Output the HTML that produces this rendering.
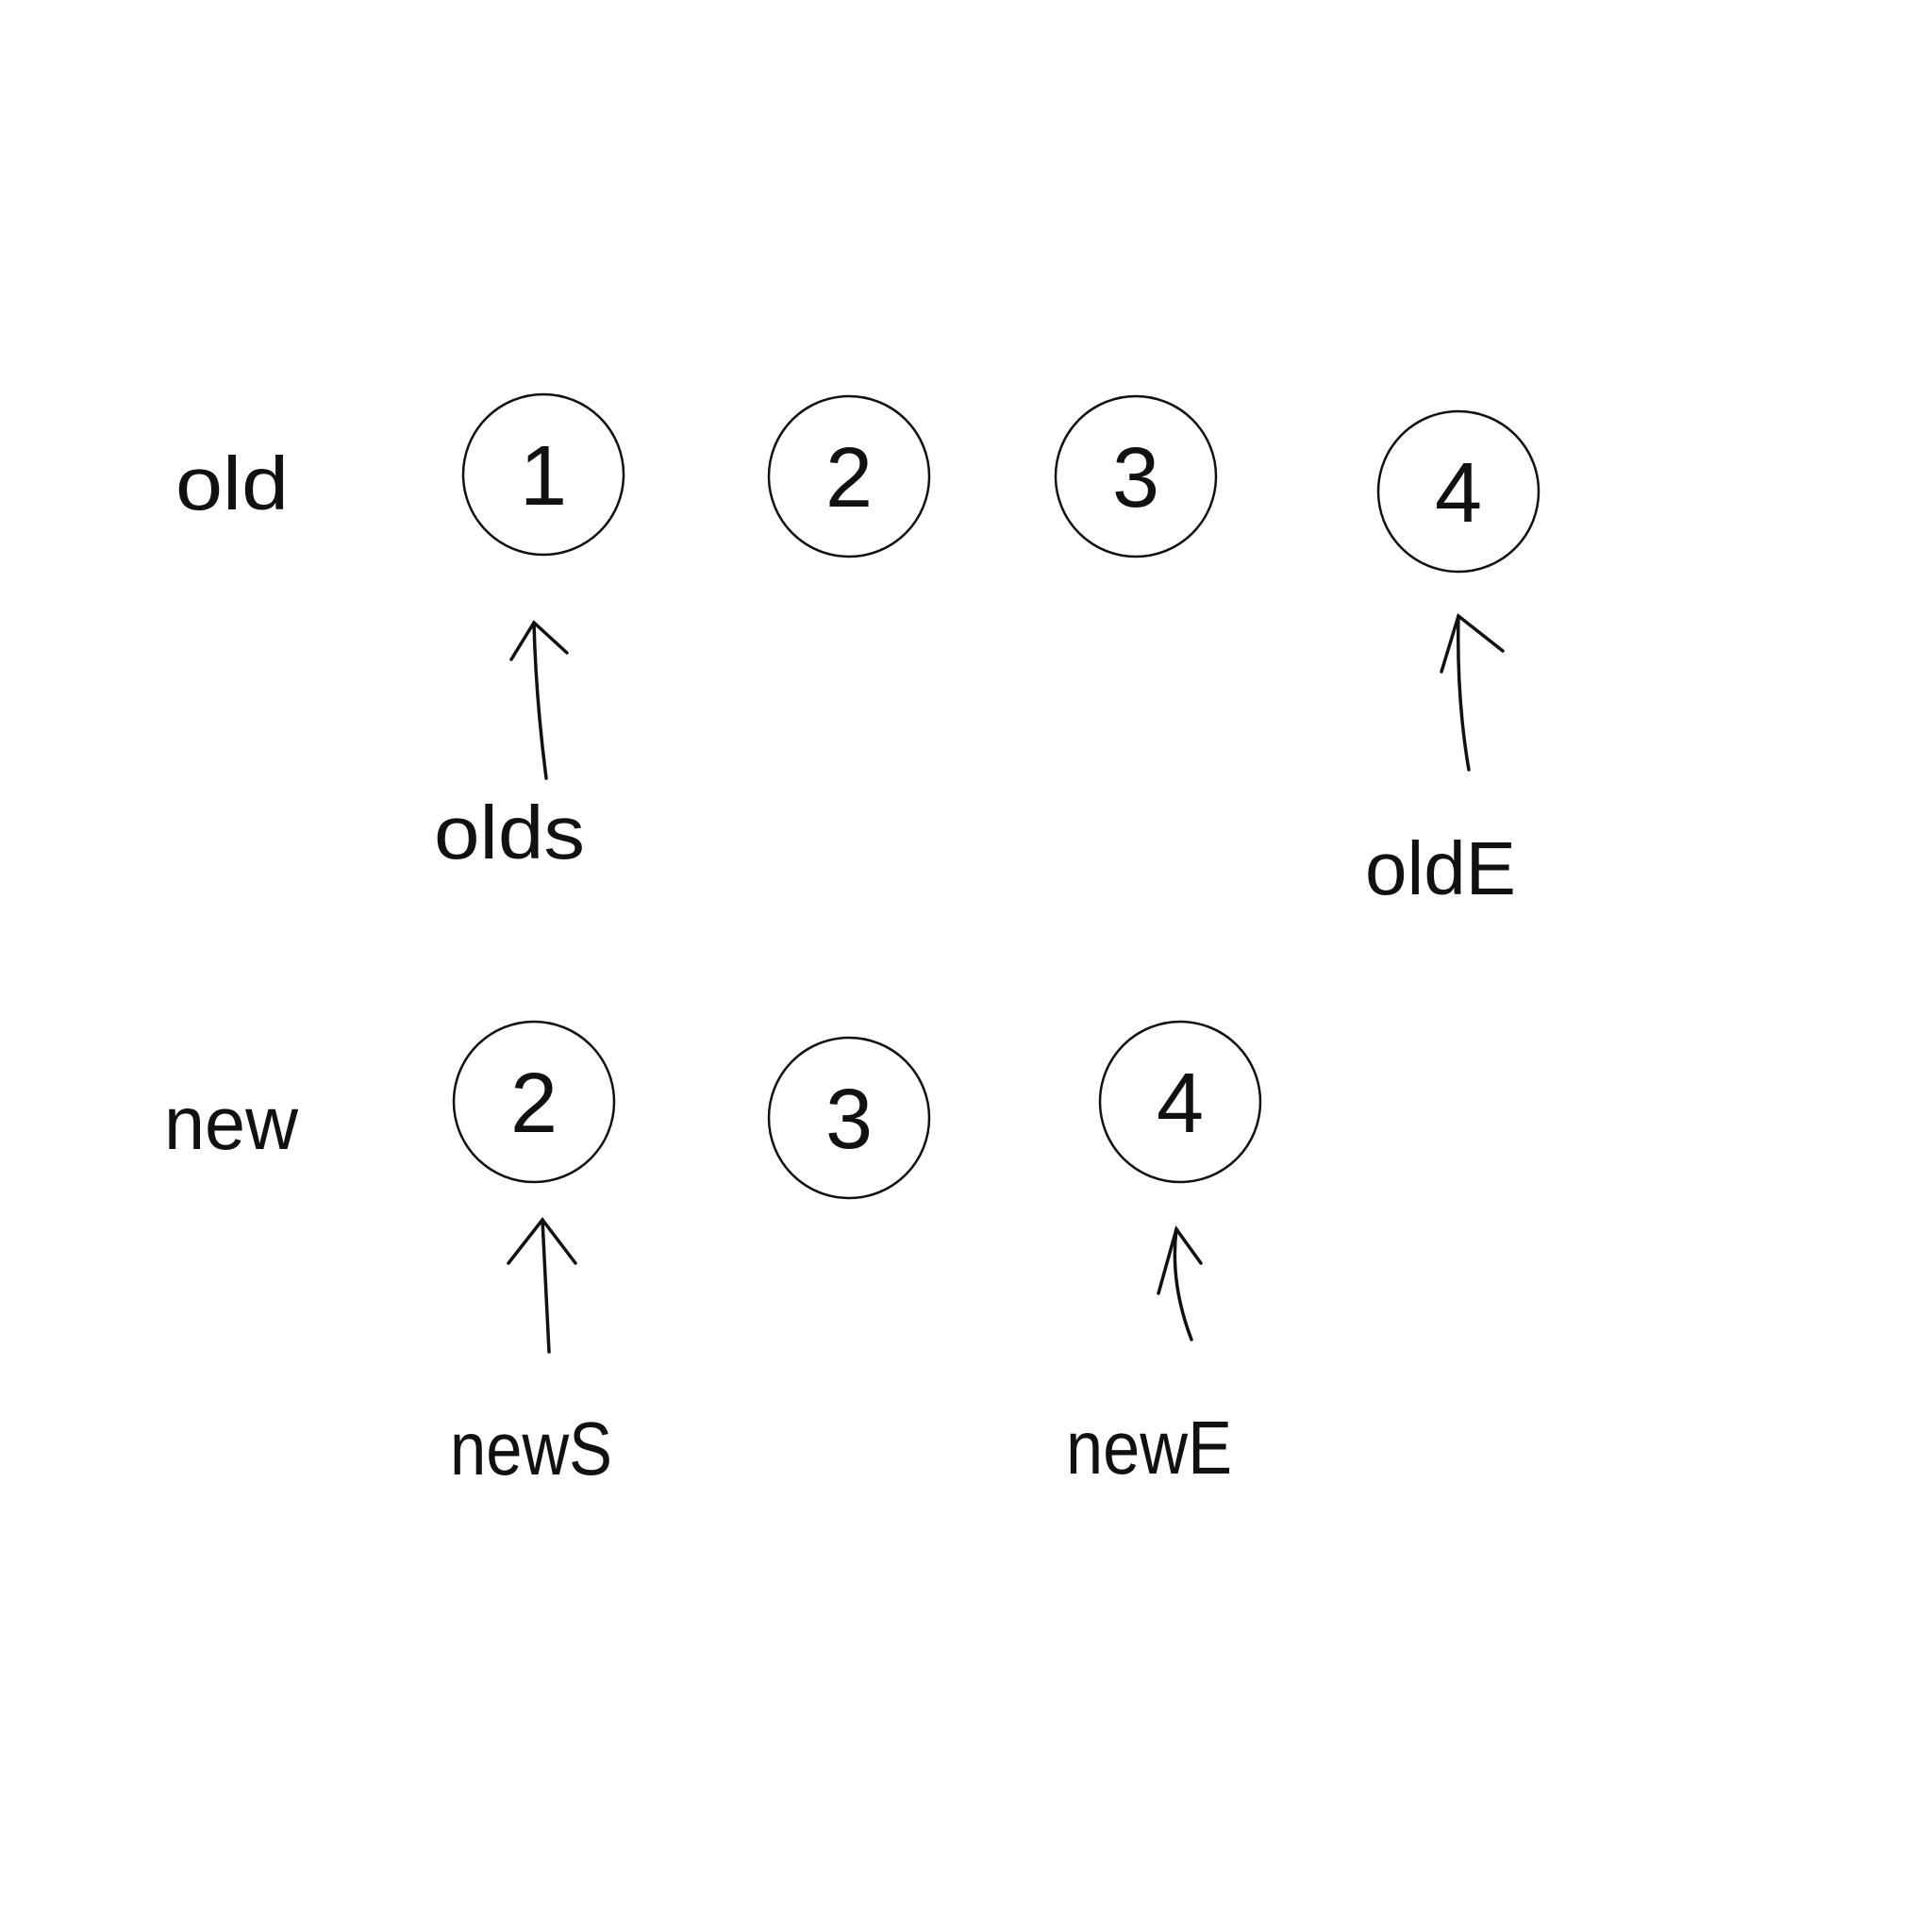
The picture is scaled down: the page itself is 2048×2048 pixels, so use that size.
<!DOCTYPE html>
<html><head><meta charset="utf-8"><style>
html,body{margin:0;padding:0;background:#fff;}
svg{display:block;}
text{font-family:"Liberation Sans",sans-serif;fill:#111;}
</style></head><body>
<svg width="2048" height="2048" viewBox="0 0 2048 2048" xmlns="http://www.w3.org/2000/svg">
<rect width="2048" height="2048" fill="#fff"/>
<g fill="none" stroke="#111" stroke-width="2.5">
<circle cx="576" cy="503" r="85"/>
<circle cx="900" cy="505" r="85"/>
<circle cx="1204" cy="505" r="85"/>
<circle cx="1546" cy="521" r="85"/>
<circle cx="566" cy="1168" r="85"/>
<circle cx="900" cy="1185" r="85"/>
<circle cx="1251" cy="1168" r="85"/>
</g>
<g stroke="#111" stroke-width="3.5" fill="none" stroke-linecap="round">
<path d="M579 825 Q568 740 566 660"/><path d="M542 699 L566 660 L601 692"/>
<path d="M1557 816 Q1544 740 1546 653"/><path d="M1528 712 L1546 653 L1593 690"/>
<path d="M582 1433 L575 1293"/><path d="M539 1339 L575 1293 L610 1339"/>
<path d="M1263 1420 Q1240 1360 1247 1303"/><path d="M1228 1371 L1247 1303 L1273 1339"/>
</g>
<g font-size="90" text-anchor="middle">
<text x="576" y="535">1</text>
<text x="900" y="537">2</text>
<text x="1204" y="537">3</text>
<text x="1546" y="553">4</text>
<text x="566" y="1200">2</text>
<text x="900" y="1217">3</text>
<text x="1251" y="1200">4</text>
</g>
<g font-size="80">
<text x="186" y="540" textLength="120" lengthAdjust="spacingAndGlyphs">old</text>
<text x="174" y="1218" textLength="142" lengthAdjust="spacingAndGlyphs">new</text>
<text x="460" y="910" textLength="160" lengthAdjust="spacingAndGlyphs">olds</text>
<text x="1447" y="948" textLength="160" lengthAdjust="spacingAndGlyphs">oldE</text>
<text x="477" y="1563" textLength="172" lengthAdjust="spacingAndGlyphs">newS</text>
<text x="1130" y="1562" textLength="176" lengthAdjust="spacingAndGlyphs">newE</text>
</g>
</svg>
</body></html>
